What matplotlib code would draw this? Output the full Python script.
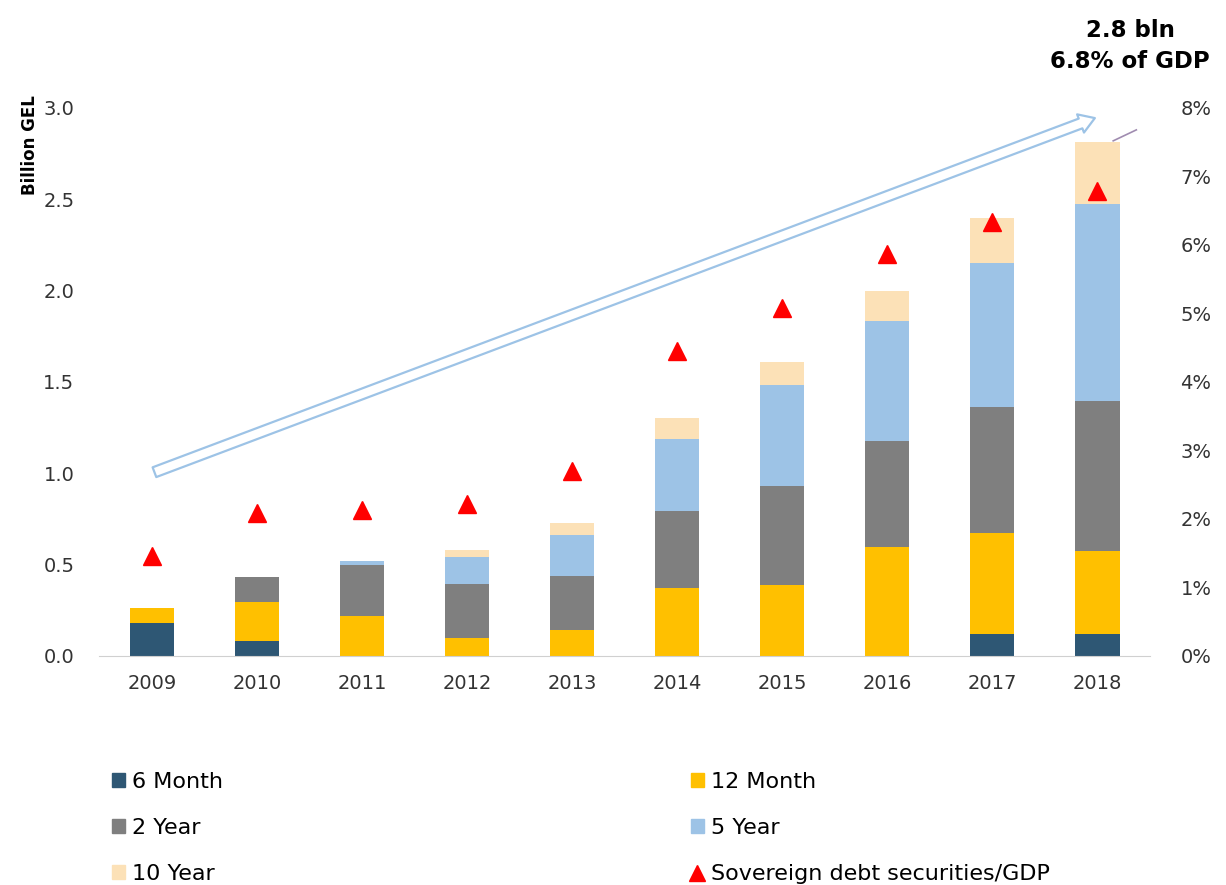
import matplotlib
matplotlib.use("Agg")
import matplotlib.pyplot as plt
import numpy as np
from matplotlib.patches import FancyArrowPatch, Patch
from matplotlib.lines import Line2D
from matplotlib.ticker import FuncFormatter

years = ["2009", "2010", "2011", "2012", "2013", "2014", "2015", "2016", "2017", "2018"]
m6 = [0.18, 0.08, 0.00, 0.00, 0.00, 0.00, 0.00, 0.00, 0.12, 0.12]
m12 = [0.08, 0.215, 0.22, 0.10, 0.14, 0.37, 0.385, 0.595, 0.55, 0.455]
y2 = [0.00, 0.135, 0.275, 0.295, 0.295, 0.425, 0.545, 0.58, 0.69, 0.82]
y5 = [0.00, 0.00, 0.025, 0.145, 0.225, 0.39, 0.555, 0.66, 0.79, 1.08]
y10 = [0.00, 0.00, 0.00, 0.04, 0.065, 0.115, 0.125, 0.165, 0.25, 0.34]
gdp_share = [1.45, 2.08, 2.13, 2.21, 2.70, 4.45, 5.08, 5.87, 6.33, 6.79]

series_names = ["6 Month", "12 Month", "2 Year", "5 Year", "10 Year"]
series_colors = ["#2E5774", "#FFC000", "#7F7F7F", "#9DC3E6", "#FCE1B7"]
tri_color = "#FF0000"
tri_label = "Sovereign debt securities/GDP"

fig = plt.figure(figsize=(12.26, 8.85), dpi=100)
ax = fig.add_axes([0.081, 0.259, 0.857, 0.619])
ax2 = ax.twinx()

x = np.arange(len(years))
bottom = np.zeros(len(years))
for vals, col in zip([m6, m12, y2, y5, y10], series_colors):
    ax.bar(x, vals, width=0.42, bottom=bottom, color=col, zorder=2)
    bottom += np.array(vals)

ax.set_xlim(-0.5, 9.5)
ax.set_ylim(0, 3.0)
ax.set_yticks(np.arange(0, 3.01, 0.5))
ax.yaxis.set_major_formatter(FuncFormatter(lambda v, p: f"{v:.1f}"))
ax.set_xticks(x)
ax.set_xticklabels(years)
for s in ["top", "left", "right"]:
    ax.spines[s].set_visible(False)
ax.spines["bottom"].set_color("#D0D0D0")
ax.tick_params(axis="both", length=0, labelsize=14, colors="#333333")
ax.tick_params(axis="x", pad=13)
ax.tick_params(axis="y", pad=18)

ax2.set_ylim(0, 8)
ax2.set_yticks(range(0, 9))
ax2.yaxis.set_major_formatter(FuncFormatter(lambda v, p: f"{int(v)}%"))
for s in ["top", "left", "right", "bottom"]:
    ax2.spines[s].set_visible(False)
ax2.tick_params(axis="y", length=0, labelsize=14, colors="#333333", pad=22)
ax2.plot(x, gdp_share, linestyle="none", marker="^", markersize=13,
         color=tri_color, zorder=5)

# trend arrow
arrow = FancyArrowPatch((0.0, 1.0), (9.0, 2.95),
                        arrowstyle="simple,head_width=14,head_length=11,tail_width=7.5",
                        mutation_scale=1, facecolor="white", edgecolor="#9DC3E6",
                        linewidth=1.6, zorder=4)
ax.add_patch(arrow)
ax.plot([9.15, 9.37], [2.82, 2.88], color="#A08CB0", linewidth=1.2, zorder=4)

fig.text(30 / 1226, 1 - 95 / 885, "Billion GEL", rotation=90, ha="center", va="top",
         fontsize=12, fontweight="bold")
fig.text(1130 / 1226, 1 - 46 / 885, "2.8 bln\n6.8% of GDP", ha="center", va="center",
         fontsize=16.5, fontweight="bold", linespacing=1.4)

handles_left = [Patch(color=series_colors[0]), Patch(color=series_colors[2]),
                Patch(color=series_colors[4])]
labels_left = [series_names[0], series_names[2], series_names[4]]
handles_right = [Patch(color=series_colors[1]), Patch(color=series_colors[3]),
                 Line2D([], [], linestyle="none", marker="^", color=tri_color, markersize=11)]
labels_right = [series_names[1], series_names[3], tri_label]

leg_kw = dict(frameon=False, fontsize=16, handlelength=0.6, handleheight=0.6,
              handletextpad=0.3, labelspacing=1.17, loc="upper left")
fig.legend(handles_left, labels_left, bbox_to_anchor=(0.075, 0.150), **leg_kw)
fig.legend(handles_right, labels_right, bbox_to_anchor=(0.547, 0.150), **leg_kw)

fig.savefig("out.png", dpi=100)
